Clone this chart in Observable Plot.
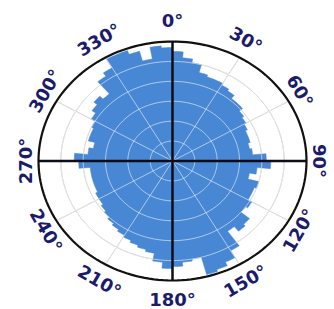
<!DOCTYPE html>
<html>
<head>
<meta charset="utf-8">
<script src="https://cdn.jsdelivr.net/npm/d3@7"></script>
<script src="https://cdn.jsdelivr.net/npm/@observablehq/plot@0.6"></script>
<style>
  html, body { margin: 0; padding: 0; background: #ffffff; }
  #chart { width: 334px; height: 309px; }
</style>
</head>
<body>
<div id="chart"></div>
<script>
// ---- data ----
const binAngles = [0,5,10,15,20,25,30,35,40,45,50,55,60,65,70,75,80,85,
  90,95,100,105,110,115,120,125,130,135,140,145,150,155,160,165,170,175,
  180,185,190,195,200,205,210,215,220,225,230,235,240,245,250,255,260,265,
  270,275,280,285,290,295,300,305,310,315,320,325,330,335,340,345,350,355];
const binRadii = [27.5,26,25,23,22.5,22.5,22,21.5,20.5,20.5,19.5,19,18.5,18,18,17.5,18,21,
  22,19,17.5,20,19.5,19.5,20.5,20,22.5,23,21.5,26,28,29,29.5,25,25.5,26.5,
  27,25.5,23.5,23,22.5,22,21.5,21,20.5,20,19.5,19,19,18.5,18.5,18.5,18.5,21,
  22,19,18,19.5,19.5,20,21,22,23,22,26,27,29.5,29.5,28.5,26,29,28.5];
const ringValues = [5,10,15,20,25];
const outerRadius = [30];
const tickAngles = [0,30,60,90,120,150,180,210,240,270,300,330];
const tickLabels = ["0°","30°","60°","90°","120°","150°","180°","210°","240°","270°","300°","330°"];

// ---- derived geometry ----
const deg = Math.PI / 180;
const R = outerRadius[0];
const binWidth = binAngles[1] - binAngles[0];
const outline = [];
binAngles.forEach((a, i) => {
  for (let t = 0; t <= binWidth; t++) {
    const ang = (a + t) * deg;
    outline.push({x: binRadii[i] * Math.sin(ang), y: binRadii[i] * Math.cos(ang)});
  }
});
function circlePts(list) {
  const pts = [];
  list.forEach(r => {
    for (let a = 0; a <= 360; a += 2) pts.push({r, x: r * Math.sin(a * deg), y: r * Math.cos(a * deg)});
  });
  return pts;
}
const ringPts = circlePts(ringValues);
const outerPts = circlePts(outerRadius);
const spokes = tickAngles.filter(a => a % 90 !== 0).map(a => ({x1: 0, y1: 0, x2: R * Math.sin(a * deg), y2: R * Math.cos(a * deg)}));
const cross = [{x1: -R, y1: 0, x2: R, y2: 0}, {x1: 0, y1: -R, x2: 0, y2: R}];
const labelRx = 32.8, labelRy = 35;
const labels = tickAngles.map((a, i) => ({
  x: labelRx * Math.sin(a * deg),
  y: labelRy * Math.cos(a * deg),
  text: tickLabels[i],
  rot: a <= 90 ? a : (a < 270 ? a - 180 : a - 360)
}));

const gridUnder = "#b9b9b9";
const chart = Plot.plot({
  width: 334,
  height: 309,
  margin: 0,
  style: {background: "#ffffff", overflow: "visible"},
  x: {domain: [-R, R], range: [38, 306], axis: null},
  y: {domain: [-R, R], range: [280, 41], axis: null},
  marks: [
    Plot.line(ringPts, {x: "x", y: "y", z: "r", stroke: gridUnder, strokeWidth: 1}),
    Plot.link(spokes, {x1: "x1", y1: "y1", x2: "x2", y2: "y2", stroke: gridUnder, strokeWidth: 1}),
    Plot.line(outline, {x: "x", y: "y", fill: "#4887d4", stroke: "#4887d4", strokeWidth: 0.5}),
    Plot.line(ringPts, {x: "x", y: "y", z: "r", stroke: "#ffffff", strokeOpacity: 0.55, strokeWidth: 1}),
    Plot.link(spokes, {x1: "x1", y1: "y1", x2: "x2", y2: "y2", stroke: "#ffffff", strokeOpacity: 0.55, strokeWidth: 1}),
    Plot.line(outerPts, {x: "x", y: "y", stroke: "#111111", strokeWidth: 2.2}),
    Plot.link(cross, {x1: "x1", y1: "y1", x2: "x2", y2: "y2", stroke: "#0d0d1a", strokeWidth: 2.5}),
    Plot.text(labels, {x: "x", y: "y", text: "text", rotate: "rot", fontSize: 18, fontWeight: "bold",
      fontFamily: "DejaVu Sans", fill: "#1b1b6b", textAnchor: "middle", lineAnchor: "middle"})
  ]
});
document.getElementById("chart").appendChild(chart);
</script>
</body>
</html>
